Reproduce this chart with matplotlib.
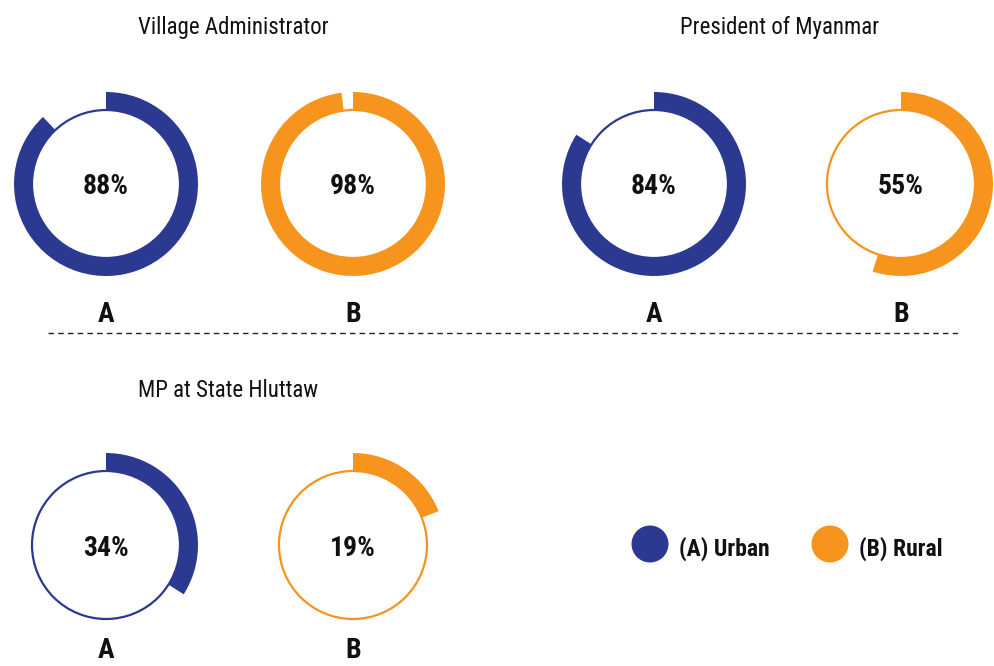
import matplotlib
matplotlib.use("Agg")
import matplotlib.pyplot as plt
from matplotlib.patches import Wedge, Circle

plt.rcParams['font.family'] = ['Roboto Condensed', 'DejaVu Sans Condensed',
                               'Liberation Sans Narrow', 'Roboto']

# data
titles = ["Village Administrator", "President of Myanmar", "MP at State Hluttaw"]
urban = [88, 84, 34]
rural = [98, 55, 19]
group_labels = ["A", "B"]
legend_labels = ["(A) Urban", "(B) Rural"]

BLUE = "#2b3990"
ORANGE = "#f7941d"
W, H = 994, 666

fig = plt.figure(figsize=(W / 100, H / 100), dpi=100)
ax = fig.add_axes([0, 0, 1, 1])
ax.set_xlim(0, W)
ax.set_ylim(0, H)
ax.set_aspect("equal")
ax.axis("off")


def ring(cx, cy, ly, pct, color, label):
    y = H - cy
    ax.add_patch(Circle((cx, y), 74, fill=False, ec=color, lw=1.6))
    ax.add_patch(Wedge((cx, y), 92, 90 - 360 * pct / 100, 90, width=18,
                       fc=color, ec="none"))
    ax.text(cx, y, f"{pct}%", ha="center", va="center_baseline", fontsize=20,
            fontweight="bold", color="#111111")
    ax.text(cx, H - ly, label, ha="center", va="center_baseline", fontsize=20,
            fontweight="bold", color="#111111")


# panel layout: (title x, title y, ring A x, ring B x, ring y, label y)
panels = [(138, 25, 106, 353, 184, 312),
          (680, 25, 654, 901, 184, 312),
          (138, 388, 106, 353, 545, 648)]

for (tx, ty, xa, xb, cy, ly), t, u, r in zip(panels, titles, urban, rural):
    ax.text(tx, H - ty, t, ha="left", va="center_baseline", fontsize=16.5,
            color="#111111")
    ring(xa, cy, ly, u, BLUE, group_labels[0])
    ring(xb, cy, ly, r, ORANGE, group_labels[1])

ax.plot([48, 960], [H - 333, H - 333], color="#222222", lw=1,
        dashes=(4, 3))

# legend
for lx, c, lab in zip([650, 830], [BLUE, ORANGE], legend_labels):
    ax.add_patch(Circle((lx, H - 544), 18.5, fc=c, ec="none"))
    ax.text(lx + 29, H - 546, lab, ha="left", va="center_baseline", fontsize=17,
            fontweight="bold", color="#111111")

fig.savefig("out.png", dpi=100)
